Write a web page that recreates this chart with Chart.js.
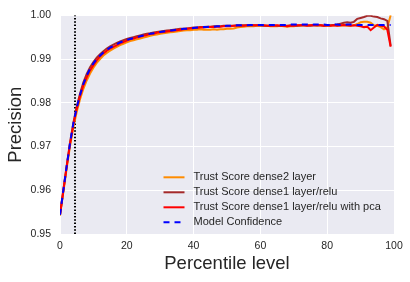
<!DOCTYPE html>
<html><head><meta charset="utf-8">
<script src="https://cdn.jsdelivr.net/npm/chart.js@4"></script>
<style>html,body{margin:0;padding:0;background:#fff}</style>
</head><body>
<canvas id="c" width="410" height="282" style="width:410px;height:282px;display:block"></canvas>
<script>
const percentiles = [0,1,2,3,4,5,6,7,8,9,10,11,12,13,14,15,16,17,18,19,20,21,22,23,24,25,26,27,28,29,30,31,32,33,34,35,36,37,38,39,40,41,42,43,44,45,46,47,48,49,50,51,52,53,54,55,56,57,58,59,60,61,62,63,64,65,66,67,68,69,70,71,72,73,74,75,76,77,78,79,80,81,82,83,84,85,86,87,88,89,90,91,92,93,94,95,96,97,98,99];

const dense2Layer = [
 0.9542,0.9596,0.9650,0.9701,0.9744,0.9779,0.9808,0.9832,0.9851,0.9867,
 0.9880,0.9891,0.9900,0.9908,0.9914,0.9919,0.9924,0.9928,0.9932,0.9935,
 0.9938,0.9941,0.9943,0.9945,0.9947,0.9949,0.9951,0.9953,0.9955,0.9956,
 0.9958,0.9959,0.9960,0.9961,0.9962,0.9963,0.9964,0.9965,0.9966,0.9966,
 0.9967,0.9967,0.9968,0.9967,0.9967,0.9967,0.9968,0.9967,0.9968,0.9968,
 0.9969,0.9969,0.9970,0.9972,0.9973,0.9974,0.9975,0.9975,0.9975,0.9976,
 0.9976,0.9976,0.9976,0.9975,0.9975,0.9975,0.9976,0.9975,0.9974,0.9975,
 0.9975,0.9976,0.9976,0.9977,0.9976,0.9977,0.9977,0.9976,0.9977,0.9976,
 0.9976,0.9976,0.9977,0.9976,0.9976,0.9977,0.9976,0.9976,0.9977,0.9980,
 0.9984,0.9985,0.9985,0.9983,0.9977,0.9976,0.9973,0.9968,0.9972,1.0000];

const dense1Relu = [
 0.9544,0.9600,0.9656,0.9709,0.9754,0.9791,0.9821,0.9847,0.9866,0.9881,
 0.9893,0.9903,0.9911,0.9918,0.9924,0.9929,0.9933,0.9937,0.9940,0.9943,
 0.9946,0.9948,0.9950,0.9952,0.9954,0.9956,0.9958,0.9959,0.9961,0.9962,
 0.9963,0.9964,0.9965,0.9966,0.9967,0.9968,0.9969,0.9969,0.9970,0.9971,
 0.9972,0.9972,0.9973,0.9973,0.9974,0.9974,0.9975,0.9975,0.9975,0.9976,
 0.9976,0.9976,0.9976,0.9977,0.9977,0.9977,0.9977,0.9977,0.9977,0.9977,
 0.9977,0.9976,0.9976,0.9976,0.9977,0.9976,0.9976,0.9976,0.9976,0.9977,
 0.9977,0.9976,0.9977,0.9977,0.9977,0.9976,0.9977,0.9977,0.9977,0.9976,
 0.9977,0.9977,0.9978,0.9979,0.9981,0.9983,0.9984,0.9983,0.9985,0.9992,
 0.9994,0.9996,0.9999,0.9999,0.9997,0.9996,0.9993,0.9991,0.9987,0.9930];

const dense1ReluPca = [
 0.9544,0.9599,0.9654,0.9706,0.9750,0.9786,0.9815,0.9840,0.9858,0.9874,
 0.9886,0.9897,0.9906,0.9913,0.9919,0.9924,0.9928,0.9932,0.9936,0.9939,
 0.9942,0.9945,0.9947,0.9949,0.9951,0.9953,0.9955,0.9957,0.9958,0.9960,
 0.9961,0.9962,0.9963,0.9964,0.9965,0.9966,0.9967,0.9968,0.9969,0.9970,
 0.9971,0.9971,0.9972,0.9972,0.9973,0.9973,0.9973,0.9974,0.9974,0.9975,
 0.9975,0.9975,0.9976,0.9976,0.9976,0.9976,0.9977,0.9977,0.9977,0.9977,
 0.9977,0.9977,0.9976,0.9976,0.9976,0.9977,0.9976,0.9976,0.9975,0.9976,
 0.9976,0.9977,0.9977,0.9977,0.9976,0.9977,0.9978,0.9977,0.9977,0.9976,
 0.9977,0.9976,0.9977,0.9976,0.9977,0.9978,0.9977,0.9976,0.9977,0.9976,
 0.9975,0.9973,0.9974,0.9966,0.9972,0.9978,0.9976,0.9975,0.9967,0.9928];

const modelConfidence = [
 0.9544,0.9600,0.9655,0.9708,0.9753,0.9789,0.9818,0.9843,0.9862,0.9878,
 0.9890,0.9900,0.9908,0.9915,0.9921,0.9926,0.9930,0.9934,0.9938,0.9941,
 0.9944,0.9946,0.9948,0.9950,0.9952,0.9954,0.9956,0.9958,0.9959,0.9961,
 0.9962,0.9963,0.9964,0.9965,0.9966,0.9967,0.9968,0.9969,0.9969,0.9970,
 0.9971,0.9972,0.9972,0.9973,0.9973,0.9974,0.9974,0.9975,0.9975,0.9975,
 0.9976,0.9976,0.9976,0.9977,0.9977,0.9977,0.9977,0.9978,0.9978,0.9978,
 0.9978,0.9978,0.9978,0.9978,0.9978,0.9978,0.9978,0.9978,0.9978,0.9979,
 0.9979,0.9979,0.9979,0.9979,0.9979,0.9978,0.9979,0.9979,0.9979,0.9979,
 0.9978,0.9978,0.9979,0.9979,0.9978,0.9978,0.9979,0.9979,0.9978,0.9978,
 0.9978,0.9978,0.9978,0.9978,0.9978,0.9978,0.9978,0.9978,0.9978,0.9978];

const cutoffPercentile = 4.5;
const xTickValues = [0, 20, 40, 60, 80, 100];
const yTickValues = [0.95, 0.96, 0.97, 0.98, 0.99, 1.00];
const seriesLabels = ['Trust Score dense2 layer', 'Trust Score dense1 layer/relu', 'Trust Score dense1 layer/relu with pca', 'Model Confidence'];
const xAxisTitle = 'Percentile level';
const yAxisTitle = 'Precision';

const FONT = "'Liberation Sans', Arial, sans-serif";
const TEXT = '#262626';

const toPoints = ys => percentiles.map((x, i) => ({x: x, y: ys[i]}));

const bgPlugin = {
  id: 'bg',
  beforeDraw(chart) {
    const {ctx, chartArea: a} = chart;
    ctx.save();
    ctx.fillStyle = '#EAEAF2';
    ctx.fillRect(a.left, a.top, a.right - a.left, a.bottom - a.top);
    ctx.restore();
  }
};

const legendPlugin = {
  id: 'innerLegend',
  afterDraw(chart) {
    const {ctx, chartArea: a} = chart;
    const items = chart.data.datasets.filter(d => d.label);
    const lx = a.left + 103.5, ll = 21, tx = lx + 30, y0 = a.top + 162, dy = 15;
    ctx.save();
    ctx.font = "11px " + FONT;
    ctx.textBaseline = 'middle';
    ctx.textAlign = 'left';
    items.forEach((d, i) => {
      const y = y0 + i * dy;
      ctx.beginPath();
      ctx.strokeStyle = d.borderColor;
      ctx.lineWidth = d.borderWidth;
      ctx.setLineDash(d.borderDash || []);
      ctx.moveTo(lx, y);
      ctx.lineTo(lx + ll, y);
      ctx.stroke();
      ctx.setLineDash([]);
      ctx.fillStyle = TEXT;
      ctx.fillText(d.label, tx, y);
    });
    ctx.restore();
  }
};

const common = {pointRadius: 0, pointHoverRadius: 0, borderWidth: 2, tension: 0, fill: false};

new Chart(document.getElementById('c'), {
  type: 'line',
  data: {
    datasets: [
      Object.assign({label: seriesLabels[0], data: toPoints(dense2Layer), borderColor: '#FF8C00', order: 4}, common),
      Object.assign({label: seriesLabels[1], data: toPoints(dense1Relu), borderColor: '#A52A2A', order: 3}, common),
      Object.assign({label: seriesLabels[2], data: toPoints(dense1ReluPca), borderColor: '#FF0000', order: 2}, common),
      Object.assign({label: seriesLabels[3], data: toPoints(modelConfidence), borderColor: '#0000FF', borderDash: [6, 5], order: 1}, common),
      Object.assign({label: '', data: [{x: cutoffPercentile, y: yTickValues[0]}, {x: cutoffPercentile, y: yTickValues[yTickValues.length - 1]}], borderColor: '#000000', borderDash: [1.5, 1.8], order: 5}, common)
    ]
  },
  options: {
    responsive: false,
    animation: false,
    devicePixelRatio: 1,
    layout: {padding: {top: 13, right: 16, left: 0, bottom: 0}},
    plugins: {legend: {display: false}, tooltip: {enabled: false}},
    scales: {
      x: {
        type: 'linear', min: 0, max: 100,
        afterBuildTicks: s => { s.ticks = xTickValues.map(v => ({value: v})); },
        afterFit: s => { s.height = 48; },
        grid: {color: '#FFFFFF', lineWidth: 1, drawTicks: false},
        border: {display: false},
        ticks: {padding: 6, color: TEXT, font: {family: FONT, size: 10.5}, maxRotation: 0},
        title: {display: true, text: xAxisTitle, color: TEXT, font: {family: FONT, size: 18.5}, padding: {top: 0, bottom: 6.5}}
      },
      y: {
        type: 'linear', min: 0.95, max: 1.0,
        afterBuildTicks: s => { s.ticks = yTickValues.map(v => ({value: v})); },
        afterFit: s => { s.width = 60; },
        grid: {color: '#FFFFFF', lineWidth: 1, drawTicks: false},
        border: {display: false},
        ticks: {padding: 9, color: TEXT, font: {family: FONT, size: 10.5}, callback: v => Number(v).toFixed(2)},
        title: {display: true, text: yAxisTitle, color: TEXT, font: {family: FONT, size: 18.5}, padding: {top: 5, bottom: 0}}
      }
    }
  },
  plugins: [bgPlugin, legendPlugin]
});
</script>
</body></html>
